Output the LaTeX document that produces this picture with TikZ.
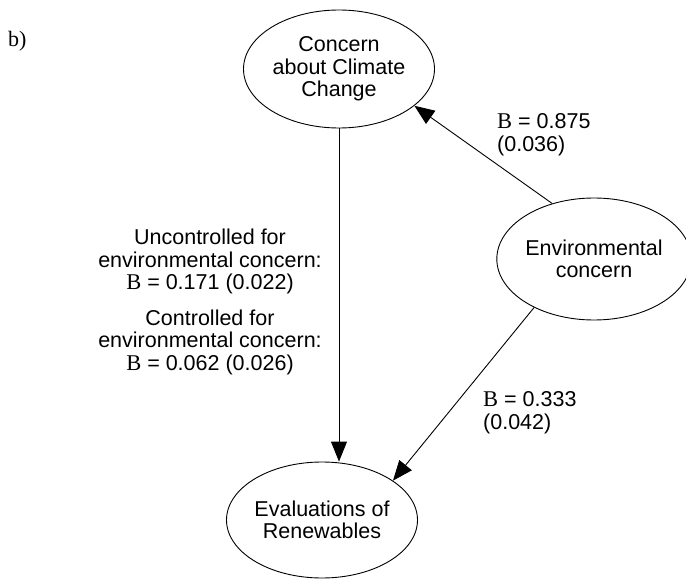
\documentclass[tikz,border=0pt]{standalone}
\usepackage{fontspec}
\setmainfont{Liberation Sans}
\newfontfamily\bfam{Liberation Serif}
\usetikzlibrary{shapes.geometric,arrows.meta}
\tikzset{
	var/.style={draw, ellipse, line width=0.9pt, inner sep=0pt, minimum width=#1, minimum height=118pt, align=center},
	path/.style={line width=0.9pt, -{Triangle[length=20pt,width=16pt]}},
	coef/.style={align=center, inner sep=0pt}
}
\newcommand{\bsym}{{\bfam\fontsize{22.5}{22.5}\selectfont B}}

\begin{document}
\begin{tikzpicture}[x=1pt, y=1pt, font=\fontsize{21.5}{22.5}\selectfont]
		%%%%% START %%%%%
		
		\useasboundingbox (0, 0) rectangle (686, -580);
		
		\node[anchor=base west, inner sep=0pt, font=\bfam\fontsize{22}{24}\selectfont] (lbl) at (8, -47) {b)};
		
		\node[var=191pt] (ccc) at (339, -69) {Concern\\about Climate\\Change};
		\node[var=184pt, minimum height=122pt] (env) at (594, -259) {Environmental\\concern};
		\node[var=182pt, minimum height=116pt] (ren) at (322, -520) {Evaluations of\\Renewables};
		
		\draw[path] (ccc.south) -- (ccc.south |- ren.north);
		\draw[path] (env.127) -- (ccc.334);
		\draw[path] (env.219) -- (ren.29);
		
		\node[coef] (bcr) at (210, -302) {Uncontrolled for\\environmental concern:\\\bsym{} = 0.171 (0.022)\\[13pt]Controlled for\\environmental concern:\\\bsym{} = 0.062 (0.026)};
		\node[coef, align=left, anchor=north west] (bec) at (497, -113.5) {\bsym{} = 0.875\\(0.036)};
		\node[coef, align=left, anchor=north west] (ber) at (483, -391.5) {\bsym{} = 0.333\\(0.042)};
		
		%%%%% END %%%%%
	\end{tikzpicture}
\end{document}
